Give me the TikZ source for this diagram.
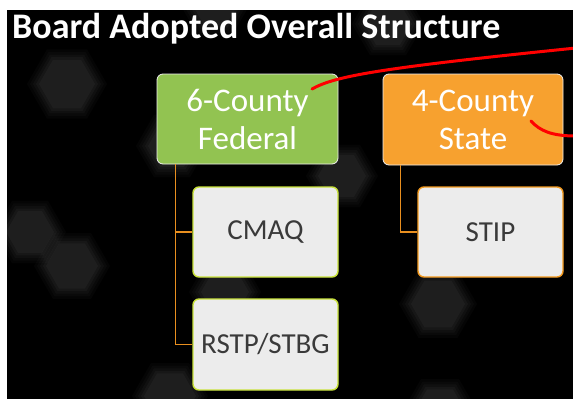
\documentclass[tikz,border=0pt]{standalone}
\usepackage{fontspec}
\setmainfont{Carlito}
\definecolor{fedgreen}{HTML}{92C351}
\definecolor{stateorange}{HTML}{F7A12F}
\definecolor{leaffill}{HTML}{ECECEC}
\definecolor{leafgreen}{HTML}{C9E23A}
\definecolor{leaforange}{HTML}{F39A1F}
\definecolor{linkorange}{HTML}{E98F1F}
\definecolor{leaftext}{HTML}{3A3A3A}
% soft background hexagon (centre x, centre y, circumradius), flat top and bottom
\newcommand\bghex[3]{%
  \foreach \grow/\op in {6/0.018,3/0.022,0/0.026,-3/0.03,-6/0.03}{%
    \fill[white, opacity=\op] (#1+#3+\grow,#2) -- ++(120:#3+\grow) -- ++(180:#3+\grow)
      -- ++(240:#3+\grow) -- ++(300:#3+\grow) -- ++(0:#3+\grow) -- cycle;}}
\begin{document}
\begin{tikzpicture}[x=1pt,y=-1pt,
  headbox/.style={rounded corners=6pt, draw=white!88!gray, line width=0.8pt, text=white,
    font=\fontsize{33}{38}\selectfont, align=center, inner sep=0pt},
  leafbox/.style={rounded corners=6pt, fill=leaffill, line width=1.4pt, text=leaftext,
    font=\fontsize{29}{32}\selectfont, minimum width=145pt, minimum height=90pt, inner sep=0pt},
  link/.style={draw=linkorange, line width=1.2pt},
  marker/.style={draw=red, line width=3pt, line cap=round}]

% page frame: white margin, black slide
\useasboundingbox (0,0) rectangle (573,399);
\fill[white] (0,0) rectangle (573,399);
\fill[black] (7,10) rectangle (573,399);

% faint hexagon pattern in the background
\begin{scope}
  \clip (7,10) rectangle (573,399);
  \bghex{67}{84}{34}
  \bghex{30}{232}{30}
  \bghex{72}{266}{32}
  \bghex{438}{304}{33}
  \bghex{170}{396}{32}
  \bghex{440}{412}{32}
  \bghex{225}{292}{30}
  \bghex{342}{176}{30}
  \bghex{172}{146}{30}
  \bghex{388}{24}{30}
  \bghex{215}{6}{28}
\end{scope}

% title
\node[anchor=base west, text=white, inner sep=0pt,
      font=\bfseries\fontsize{36}{40}\selectfont] (title) at (12,38) {Board Adopted Overall Structure};

% top-level boxes
\node[headbox, fill=fedgreen, minimum width=181pt, minimum height=90pt] (fed) at (247.5,119) {6-County\\Federal};
\node[headbox, fill=stateorange, minimum width=180pt, minimum height=91pt] (state) at (473,119.5) {4-County\\State};

% program boxes
\node[leafbox, draw=leafgreen] (cmaq) at (265.5,232) {CMAQ};
\node[leafbox, draw=leafgreen, minimum height=91pt] (rstp) at (265.5,344.5) {RSTP/STBG};
\node[leafbox, draw=leaforange] (stip) at (490.5,232) {STIP};

% tree connectors
\draw[link] ([xshift=19pt]fed.south west) |- (cmaq.west);
\draw[link] ([xshift=19pt]fed.south west) |- (rstp.west);
\draw[link] ([xshift=18pt]state.south west) |- (stip.west);

% red hand-drawn marker strokes
\coordinate (m1) at (312,89);
\coordinate (m1end) at (576,48);
\coordinate (m2) at (531,121);
\coordinate (m2end) at (576,136);
\draw[marker] (m1) .. controls (335,76) and (380,68) .. (m1end);
\draw[marker] (m2) .. controls (540,131) and (552,136) .. (m2end);
\end{tikzpicture}
\end{document}
